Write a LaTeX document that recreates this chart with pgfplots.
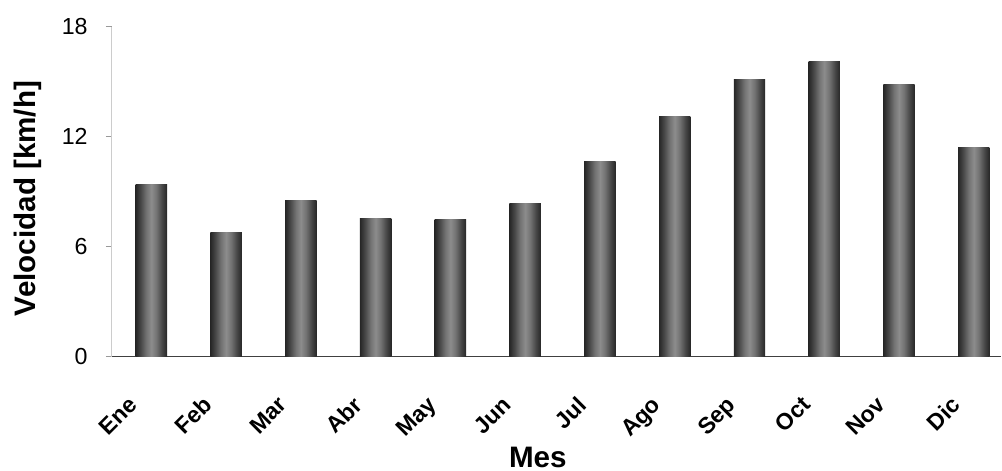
\documentclass[border=0pt]{standalone}
\usepackage{fontspec}
\setmainfont{Liberation Sans}
\usepackage{pgfplots}
\pgfplotsset{compat=1.18}
\pgfdeclarehorizontalshading{barsh}{100bp}{color(0bp)=(black!85); color(25bp)=(black!85); color(33bp)=(black!72); color(42bp)=(black!55); color(50bp)=(black!45); color(58bp)=(black!55); color(67bp)=(black!72); color(75bp)=(black!85); color(100bp)=(black!85)}
\pgfplotsset{gbar/.style={ybar, bar shift=0pt, bar width=0.42, draw=none, shading=barsh}}
\begin{document}
\begin{tikzpicture}
\begin{axis}[
  name=ax,
  scale only axis,
  width=444.5pt, height=165pt,
  xmin=-0.526, xmax=11.364,
  ymin=0, ymax=18,
  ytick={0,6,12,18},
  xtick={0,...,11},
  xticklabels={Ene,Feb,Mar,Abr,May,Jun,Jul,Ago,Sep,Oct,Nov,Dic},
  extra x ticks={0.5,1.5,...,10.5},
  extra x tick labels={},
  extra x tick style={major tick length=5pt, tick style={draw=gray!55, line width=0.5pt}},
  major x tick style={draw=none},
  major tick length=3pt,
  axis lines*=left,
  tick align=outside,
  x axis line style={draw=black!75, line width=0.7pt},
  y axis line style={draw=black!20, line width=0.5pt},
  ytick style={draw=black!40, line width=0.5pt},
  /pgf/number format/assume math mode=true,
  yticklabel style={font=\fontsize{11.6}{13}\selectfont, inner sep=0pt, anchor=east, xshift=-9pt},
  xticklabel style={font=\fontsize{11.5}{13}\selectfont\bfseries, inner sep=0pt, xshift=-12pt, yshift=-16pt, rotate=45, anchor=north east},
  every axis x label/.style={at={(axis description cs:0.479,0)}, anchor=base, yshift=-55.5pt, font=\fontsize{14.8}{16}\selectfont\bfseries},
  every axis y label/.style={at={(axis description cs:0,0.479)}, xshift=-42.25pt, rotate=90, anchor=center, font=\fontsize{14.8}{16}\selectfont\bfseries},
  xlabel={Mes},
  ylabel={Velocidad [km/h]},
]
\addplot[gbar] coordinates {(0,9.37)};
\addplot[gbar] coordinates {(1,6.78)};
\addplot[gbar] coordinates {(2,8.51)};
\addplot[gbar] coordinates {(3,7.51)};
\addplot[gbar] coordinates {(4,7.45)};
\addplot[gbar] coordinates {(5,8.32)};
\addplot[gbar] coordinates {(6,10.65)};
\addplot[gbar] coordinates {(7,13.09)};
\addplot[gbar] coordinates {(8,15.13)};
\addplot[gbar] coordinates {(9,16.11)};
\addplot[gbar] coordinates {(10,14.86)};
\addplot[gbar] coordinates {(11,11.42)};
\end{axis}
\pgfresetboundingbox
\path ([shift={(-56pt,-57.25pt)}]ax.south west) rectangle ([shift={(0.5pt,13.25pt)}]ax.north east);
\end{tikzpicture}
\end{document}
